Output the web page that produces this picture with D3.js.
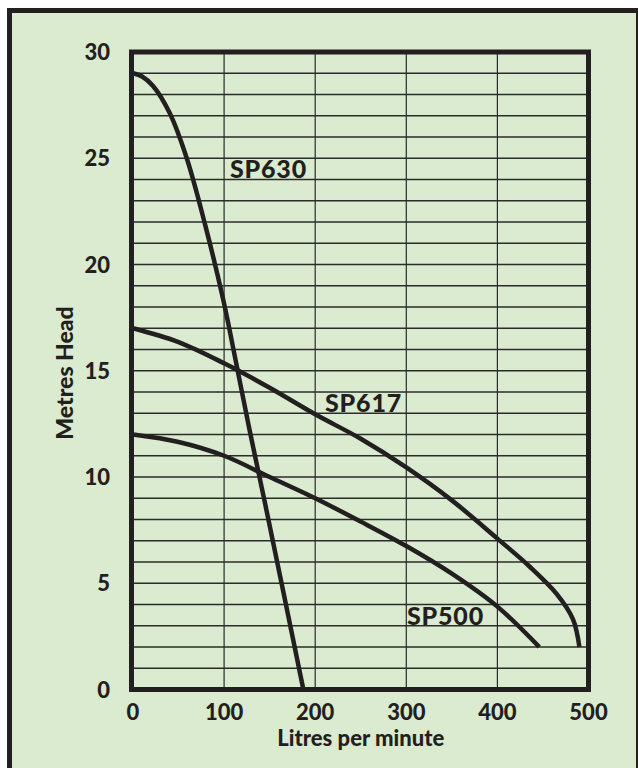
<!DOCTYPE html>
<html>
<head>
<meta charset="utf-8">
<script src="https://cdn.jsdelivr.net/npm/d3@7"></script>
<style>
  body { margin: 0; background: #fff; }
  text { font-family: Lato, "Open Sans", sans-serif; font-weight: 900; fill: #231f20; }
</style>
</head>
<body>
<div id="chart"></div>
<script>
// pump curves, flow (l/min) vs head (m)
var sp630 = [[0, 29], [10, 28.85], [22, 28.4], [40, 27.15], [59, 25.0], [79, 21.9], [99, 18.35], [114, 15.2], [128, 12.2], [145, 8.75], [165, 4.6], [187, 0]];
var sp617 = [[0, 17], [50, 16.35], [100, 15.35], [150, 14.2], [200, 12.95], [250, 11.8], [300, 10.45], [350, 8.9], [400, 7.1], [435, 5.8], [465, 4.5], [483, 3.3], [490, 2.0]];
var sp500 = [[0, 12], [50, 11.65], [100, 11.0], [150, 10.0], [200, 9.0], [250, 7.9], [300, 6.75], [350, 5.45], [400, 3.9], [446, 2.0]];

var curveNames = ["SP630", "SP617", "SP500"];
var labelPos = [[106.5, 24.07], [210.8, 13.06], [300.8, 3.04]];  // data coords of label start (baseline)
var xTicks = [0, 100, 200, 300, 400, 500];
var yTicks = [0, 5, 10, 15, 20, 25, 30];

var width = 638;
var height = 768;

var svg = d3.select('#chart')
            .append('svg')
            .attr('width', width)
            .attr('height', height);

// green panel with dark border (runs off the bottom)
svg.append('rect')
   .attr('x', 9.5)
   .attr('y', 10.5)
   .attr('width', 629)
   .attr('height', 800)
   .attr('fill', '#daebd0')
   .attr('stroke', '#231f20')
   .attr('stroke-width', 5);

var x = d3.scaleLinear().domain([0, 500]).range([133, 588.5]);
var y = d3.scaleLinear().domain([0, 30]).range([689.5, 52]);

// grid
svg.append('g')
   .selectAll('line')
   .data(d3.range(1, 30))
   .enter()
   .append('line')
   .attr('x1', x(0)).attr('x2', x(500))
   .attr('y1', function(d) { return y(d); })
   .attr('y2', function(d) { return y(d); })
   .attr('stroke', '#2b2b2b')
   .attr('stroke-width', 1.3);

svg.append('g')
   .selectAll('line')
   .data([100, 200, 300, 400])
   .enter()
   .append('line')
   .attr('y1', y(0)).attr('y2', y(30))
   .attr('x1', function(d) { return x(d); })
   .attr('x2', function(d) { return x(d); })
   .attr('stroke', '#2b2b2b')
   .attr('stroke-width', 1.2);

// curves
var line = d3.line()
             .x(function(d) { return x(d[0]); })
             .y(function(d) { return y(d[1]); })
             .curve(d3.curveCatmullRom.alpha(0.5));

svg.append('g')
   .selectAll('path')
   .data([sp630, sp617, sp500])
   .enter()
   .append('path')
   .attr('d', line)
   .attr('fill', 'none')
   .attr('stroke', '#231f20')
   .attr('stroke-width', 4.5);

// plot frame
svg.append('rect')
   .attr('x', x(0) - 1.5)
   .attr('y', y(30))
   .attr('width', x(500) - x(0) + 1.5)
   .attr('height', y(0) - y(30))
   .attr('fill', 'none')
   .attr('stroke', '#231f20')
   .attr('stroke-width', 5);

// curve labels
svg.append('g')
   .selectAll('text')
   .data(curveNames)
   .enter()
   .append('text')
   .attr('x', function(d, i) { return x(labelPos[i][0]); })
   .attr('y', function(d, i) { return y(labelPos[i][1]); })
   .attr('font-size', 25)
   .attr('letter-spacing', 0.8)
   .text(function(d) { return d; });

// axes labels
svg.append('g')
   .selectAll('text')
   .data(xTicks)
   .enter()
   .append('text')
   .attr('x', function(d) { return x(d); })
   .attr('y', 720)
   .attr('text-anchor', 'middle')
   .attr('font-size', 22)
   .text(function(d) { return d; });

svg.append('g')
   .selectAll('text')
   .data(yTicks)
   .enter()
   .append('text')
   .attr('x', 110)
   .attr('y', function(d) { return y(d) + 8; })
   .attr('text-anchor', 'end')
   .attr('font-size', 22)
   .text(function(d) { return d; });

svg.append('text')
   .attr('x', (x(0) + x(500)) / 2)
   .attr('y', 746)
   .attr('text-anchor', 'middle')
   .attr('font-size', 22)
   .text('Litres per minute');

svg.append('text')
   .attr('transform', 'translate(73,' + 373 + ') rotate(-90)')
   .attr('text-anchor', 'middle')
   .attr('font-size', 23)
   .text('Metres Head');
</script>
</body>
</html>
